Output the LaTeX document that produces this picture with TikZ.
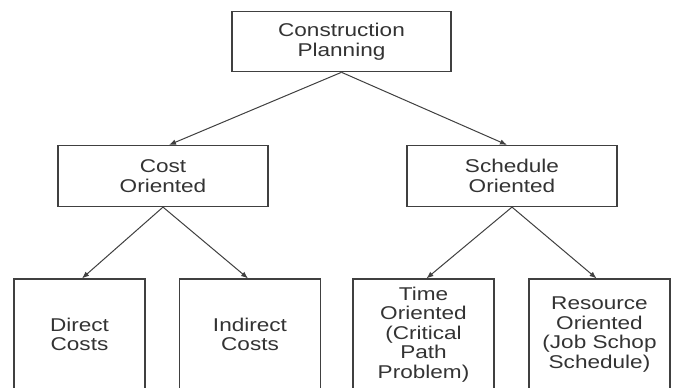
\documentclass[tikz,border=0pt]{standalone}
\usepackage{fontspec}
\setmainfont[FakeStretch=1.22]{Liberation Sans}
\usepackage{tikz}
\usetikzlibrary{arrows.meta}
\tikzset{>={Latex[length=7pt, width=5.5pt]}}
\tikzset{
    plan/.style={draw=black!75, line width=1.2pt, text=black!80, align=center, inner sep=0pt,
        font=\fontsize{18.5}{19.5}\selectfont},
    leaf/.style={plan, minimum width=141pt, minimum height=111pt},
    link/.style={->, draw=black!75, line width=1pt}
}

\begin{document}
\begin{tikzpicture}[x=1pt, y=-1pt]
    \useasboundingbox(0, 0) rectangle (675, 388);
    \clip(0, 0) rectangle (675, 388);
    \fill[white](0, 0) rectangle (675, 388);
    \node[plan, minimum width=219pt, minimum height=60pt](planning) at (341.5, 41.7){Construction\\Planning};
    \node[plan, minimum width=210pt, minimum height=61pt](cost) at (163, 176){Cost\\Oriented};
    \node[plan, minimum width=210pt, minimum height=61pt](schedule) at (512, 176){Schedule\\Oriented};
    \node[leaf, minimum width=131pt](direct) at (79.5, 334.5){Direct\\Costs};
    \node[leaf](indirect) at (250, 334.5){Indirect\\Costs};
    \node[leaf](time) at (423.5, 334.5){Time\\Oriented\\(Critical\\Path\\Problem)};
    \node[leaf](resource) at (599.5, 334.5){Resource\\Oriented\\(Job Schop\\Schedule)};
    \draw[link](planning.south)--([xshift=6pt]cost.north);
    \draw[link](planning.south)--([xshift=-5pt]schedule.north);
    \draw[link](cost.south)--([xshift=2.5pt]direct.north);
    \draw[link](cost.south)--([xshift=-2pt]indirect.north);
    %\draw[link](schedule.south)--(time.north);
    \draw[link](schedule.south)--([xshift=3pt]time.north);
    \draw[link](schedule.south)--([xshift=-3pt]resource.north);
\end{tikzpicture}
\end{document}
